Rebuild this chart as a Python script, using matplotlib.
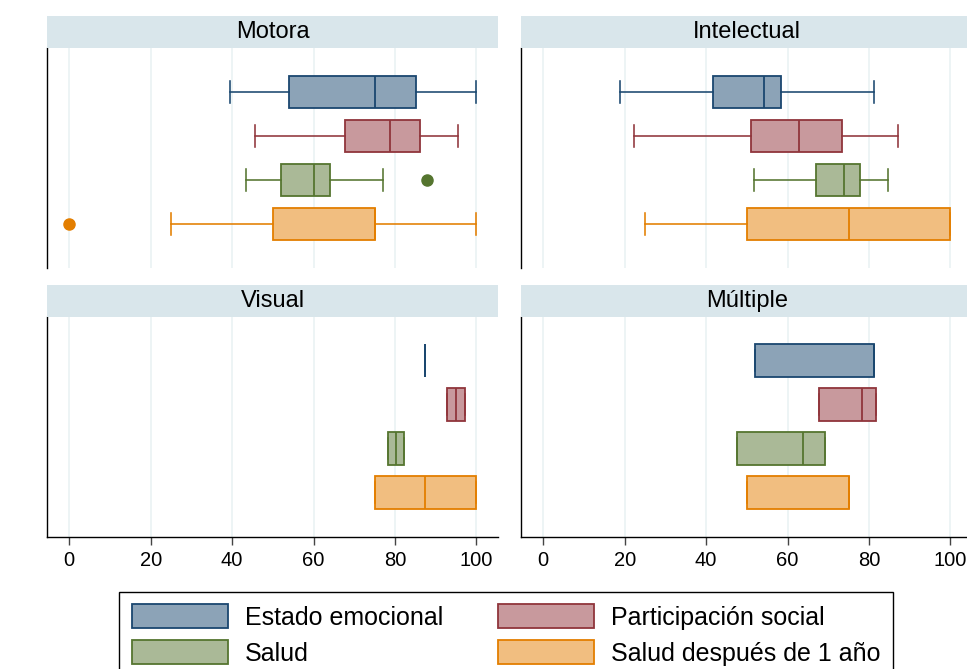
import matplotlib.pyplot as plt
from matplotlib.patches import Patch

plt.rcParams['font.family'] = ['Liberation Sans', 'DejaVu Sans']

series = ['Estado emocional', 'Participación social', 'Salud', 'Salud después de 1 año']
edge_colors = ['#1a476f', '#90353b', '#55752f', '#e37e00']
fill_colors = ['#8ca3b7', '#c8999d', '#aab997', '#f1be80']

panels = ['Motora', 'Intelectual', 'Visual', 'Múltiple']

# per series: (whisker low, q1, median, q3, whisker high)
motora = [(39.6, 54.0, 75.0, 85.3, 100.0),
          (45.7, 67.8, 78.9, 86.2, 95.6),
          (43.5, 52.1, 60.2, 64.1, 77.1),
          (25.0, 50.0, 75.0, 75.0, 100.0)]
motora_out = [[], [], [88.0], [0.0]]

intelectual = [(18.8, 41.6, 54.2, 58.3, 81.3),
               (22.3, 51.1, 62.8, 73.3, 87.2),
               (51.7, 66.9, 74.0, 77.7, 84.8),
               (25.0, 50.0, 75.0, 100.0, 100.0)]
intelectual_out = [[], [], [], []]

visual = [(87.5, 87.5, 87.5, 87.5, 87.5),
          (92.7, 92.7, 95.0, 97.3, 97.3),
          (78.4, 78.4, 80.3, 82.3, 82.3),
          (75.0, 75.0, 87.5, 100.0, 100.0)]
visual_out = [[], [], [], []]

multiple = [(52.1, 52.1, 81.3, 81.3, 81.3),
            (67.7, 67.7, 78.4, 81.7, 81.7),
            (47.6, 47.6, 63.8, 69.2, 69.2),
            (50.0, 50.0, 75.0, 75.0, 75.0)]
multiple_out = [[], [], [], []]

panel_stats = [motora, intelectual, visual, multiple]
panel_out = [motora_out, intelectual_out, visual_out, multiple_out]

W, H = 967, 669
fig = plt.figure(figsize=(W / 100, H / 100), dpi=100)


def px_axes(x0, y0, x1, y1, **kw):
    return fig.add_axes([x0 / W, 1 - y1 / H, (x1 - x0) / W, (y1 - y0) / H], **kw)


# pixel frames of the plot regions; each title strip sits 32 px above its frame
frames = [(47.3, 48.3, 498.3, 267.7), (521.3, 48.3, 972.3, 267.7),
          (47.3, 316.7, 498.3, 536.7), (521.3, 316.7, 972.3, 536.7)]

for k, (name, stats, outs) in enumerate(zip(panels, panel_stats, panel_out)):
    x0, y0, x1, y1 = frames[k]
    ax = px_axes(x0, y0, x1, y1)
    for i, (s, f) in enumerate(zip(stats, outs)):
        st = dict(whislo=s[0], q1=s[1], med=s[2], q3=s[3], whishi=s[4], fliers=f)
        ec, fc = edge_colors[i], fill_colors[i]
        ax.bxp([st], positions=[i + 1], widths=0.74, capwidths=0.49,
               orientation='horizontal', patch_artist=True, manage_ticks=False,
               boxprops=dict(facecolor=fc, edgecolor=ec, linewidth=1.3),
               medianprops=dict(color=ec, linewidth=1.3),
               whiskerprops=dict(color=ec, linewidth=1.15),
               capprops=dict(color=ec, linewidth=1.15),
               flierprops=dict(marker='o', markerfacecolor=ec, markeredgecolor=ec,
                               markersize=8))
    ax.set_xlim(-5.4, 105.4)
    ax.set_ylim(5, 0)
    ax.set_yticks([])
    ax.set_xticks(range(0, 101, 20))
    ax.grid(axis='x', color='#eaf2f3', linewidth=1.2)
    ax.set_axisbelow(True)
    for side in ['top', 'right']:
        ax.spines[side].set_visible(False)
    ax.spines['left'].set_linewidth(1.0)
    if k < 2:
        ax.spines['bottom'].set_visible(False)
        ax.tick_params(axis='x', length=0, labelbottom=False)
    else:
        ax.spines['bottom'].set_linewidth(1.0)
        ax.tick_params(axis='x', length=6, width=1.0, color='#444444', pad=4,
                       labelsize=14.5)

    strip = px_axes(x0, y0 - 32, x1, y0, facecolor='#d9e6eb')
    strip.set_xticks([])
    strip.set_yticks([])
    for sp in strip.spines.values():
        sp.set_visible(False)
    strip.text(0.5, 0.5, name, ha='center', va='center', fontsize=17,
               transform=strip.transAxes)

# legend: two columns, filled row by row
order = [0, 2, 1, 3]
handles = [Patch(facecolor=fill_colors[i], edgecolor=edge_colors[i], linewidth=1.3)
           for i in order]
leg = fig.legend(handles, [series[i] for i in order], loc='upper center',
                 bbox_to_anchor=(506 / W, 1 - 591.7 / H), ncol=2, frameon=True,
                 fancybox=False, edgecolor='black', framealpha=1, fontsize=18,
                 handlelength=3.84, handleheight=1.1, handletextpad=0.67,
                 columnspacing=2.2, borderpad=0.5, labelspacing=0.42,
                 borderaxespad=0)
leg.get_frame().set_linewidth(1.0)

fig.savefig('out.png', dpi=100)
